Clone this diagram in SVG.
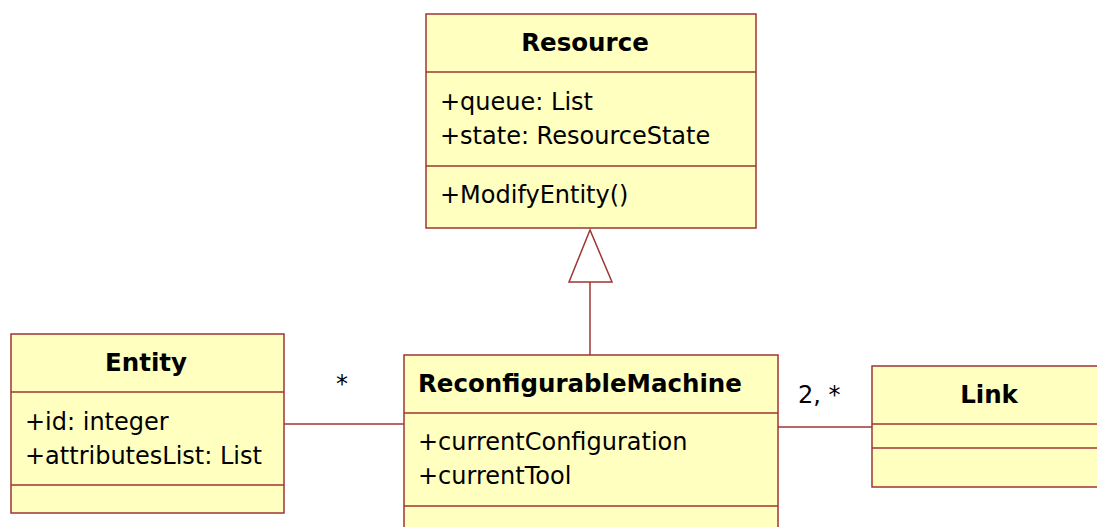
<svg xmlns="http://www.w3.org/2000/svg" width="1097" height="527" viewBox="0 0 1097 527">
<style>
.box{fill:#ffffc0;stroke:#a03535;stroke-width:1.5}
.ln{stroke:#a03535;stroke-width:1.5;fill:none}
.t{font-family:"DejaVu Sans",Verdana,sans-serif;font-size:24px;fill:#000}
.h{font-family:"DejaVu Sans",Verdana,sans-serif;font-size:24.5px;font-weight:bold;fill:#000}
</style>
<rect width="1097" height="527" fill="#fff"/>
<g id="connectors">
<line class="ln" x1="590" y1="282" x2="590" y2="355"/>
<polygon points="590,230 569,282 612,282" fill="#fff" stroke="#a03535" stroke-width="1.5"/>
<line class="ln" x1="284" y1="424" x2="404" y2="424"/>
<line class="ln" x1="778" y1="427" x2="872" y2="427"/>
<text class="t" x="342" y="392" text-anchor="middle">*</text>
<text class="t" x="798" y="403">2, *</text>
</g>
<g id="resource">
<rect class="box" x="426" y="14" width="330" height="214"/>
<line class="ln" x1="426" y1="72" x2="756" y2="72"/>
<line class="ln" x1="426" y1="166" x2="756" y2="166"/>
<text class="h" x="585" y="51" text-anchor="middle">Resource</text>
<text class="t" x="440" y="110">+queue: List</text>
<text class="t" x="440" y="144">+state: ResourceState</text>
<text class="t" x="440" y="203">+ModifyEntity()</text>
</g>
<g id="entity">
<rect class="box" x="11" y="334" width="273" height="179"/>
<line class="ln" x1="11" y1="392" x2="284" y2="392"/>
<line class="ln" x1="11" y1="485" x2="284" y2="485"/>
<text class="h" x="146" y="371" text-anchor="middle">Entity</text>
<text class="t" x="25" y="430">+id: integer</text>
<text class="t" x="25" y="464">+attributesList: List</text>
</g>
<g id="reconfigurableMachine">
<rect class="box" x="404" y="355" width="374" height="180"/>
<line class="ln" x1="404" y1="413" x2="778" y2="413"/>
<line class="ln" x1="404" y1="506" x2="778" y2="506"/>
<text class="h" x="418" y="392">ReconfigurableMachine</text>
<text class="t" x="418" y="450">+currentConfiguration</text>
<text class="t" x="418" y="484">+currentTool</text>
</g>
<g id="link">
<rect class="box" x="872" y="366" width="240" height="121"/>
<line class="ln" x1="872" y1="424" x2="1112" y2="424"/>
<line class="ln" x1="872" y1="448" x2="1112" y2="448"/>
<text class="h" x="989" y="403" text-anchor="middle">Link</text>
</g>
</svg>
